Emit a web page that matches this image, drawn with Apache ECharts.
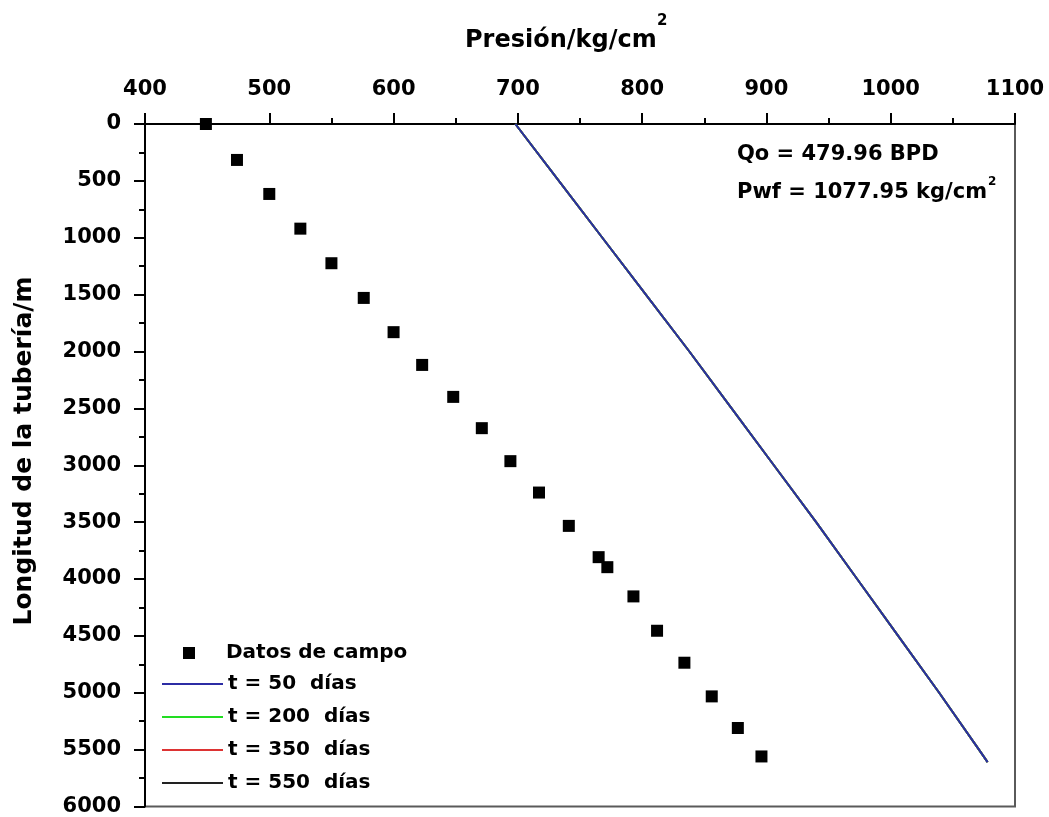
<!DOCTYPE html>
<html>
<head>
<meta charset="utf-8">
<title>Presión vs longitud de la tubería</title>
<script src="https://cdn.jsdelivr.net/npm/echarts@6/dist/echarts.min.js"></script>
<style>
  html, body { margin: 0; padding: 0; background: #ffffff; }
  #chart { width: 1049px; height: 817px; }
</style>
</head>
<body>
<div id="chart"></div>
<script>
// Field measurements: pressure (kg/cm2) vs depth along the tubing (m)
const fieldPressure = [449, 474, 500, 525, 550, 576, 600, 623, 648, 671, 694, 717, 741, 765, 772, 793, 812, 834, 856, 877, 896];
const fieldDepth    = [0, 316, 615, 920, 1224, 1529, 1830, 2118, 2399, 2674, 2964, 3240, 3533, 3808, 3896, 4153, 4455, 4736, 5032, 5310, 5560];

// Simulated pressure profiles for each production time
const modelDepth = [0, 500, 1000, 1500, 2000, 2500, 3000, 3500, 4000, 4500, 5000, 5500, 5610];
const pressure50  = [698, 733, 768, 803, 838, 872, 906, 940, 973, 1006, 1039, 1071, 1077.95];
const pressure200 = [698, 733, 768, 803, 838, 872, 906, 940, 973, 1006, 1039, 1071, 1077.95];
const pressure350 = [698, 733, 768, 803, 838, 872, 906, 940, 973, 1006, 1039, 1071, 1077.95];
const pressure550 = [698, 733, 768, 803, 838, 872, 906, 940, 973, 1006, 1039, 1071, 1077.95];

// Axis ranges and labels
const xRange = [400, 1100];
const yRange = [0, 6000];
const xTitle = 'Presión/kg/cm';
const yTitle = 'Longitud de la tubería/m';
const seriesNames = ['Datos de campo', 't = 50  días', 't = 200  días', 't = 350  días', 't = 550  días'];
const annotQo = 'Qo = 479.96 BPD';
const annotPwf = 'Pwf = 1077.95 kg/cm';

const FONT = 'DejaVu Sans';
const pair = (xs, ys) => xs.map((x, i) => [x, ys[i]]);
const plain = v => String(v);

const axisCommon = {
  type: 'value',
  axisLine: { show: true, lineStyle: { color: '#000', width: 2 } },
  axisTick: { show: true, length: 11, lineStyle: { color: '#000', width: 2 } },
  minorTick: { show: true, splitNumber: 2, length: 6, lineStyle: { color: '#000', width: 2 } },
  splitLine: { show: false },
  minorSplitLine: { show: false }
};

const labelStyle = { margin: 24, fontSize: 21, fontWeight: 'bold', color: '#000', fontFamily: FONT, formatter: plain };

const lineSeries = (name, data, color, z) => ({
  name: name,
  type: 'line',
  data: pair(data, modelDepth),
  showSymbol: false,
  symbol: 'none',
  smooth: false,
  z: z,
  lineStyle: { color: color, width: 2 },
  itemStyle: { color: color }
});

const chart = echarts.init(document.getElementById('chart'), null, { renderer: 'canvas' });

chart.setOption({
  backgroundColor: '#ffffff',
  animation: false,
  grid: {
    left: 145, right: 34, top: 124, bottom: 10,
    show: true, borderColor: '#5a5a5a', borderWidth: 2, backgroundColor: 'transparent'
  },
  xAxis: Object.assign({}, axisCommon, {
    position: 'top',
    min: xRange[0], max: xRange[1], interval: 100,
    axisLabel: labelStyle
  }),
  yAxis: Object.assign({}, axisCommon, {
    inverse: true,
    min: yRange[0], max: yRange[1], interval: 500,
    axisLabel: labelStyle
  }),
  legend: [
    {
      data: [seriesNames[0]],
      left: 178, top: 638,
      icon: 'rect', itemWidth: 12, itemHeight: 12,
      textStyle: { fontSize: 20, fontWeight: 'bold', color: '#000', fontFamily: FONT, padding: [0, 0, 0, 26] }
    },
    {
      data: seriesNames.slice(1),
      orient: 'vertical',
      left: 157, top: 669,
      icon: 'rect', itemWidth: 61, itemHeight: 2, itemGap: 13,
      textStyle: { fontSize: 20, fontWeight: 'bold', color: '#000', fontFamily: FONT }
    }
  ],
  graphic: [
    {
      type: 'text', left: 465, top: 29,
      style: { text: xTitle, font: 'bold 24px "DejaVu Sans"', fill: '#000' }
    },
    {
      type: 'text', left: 657, top: 14,
      style: { text: '2', font: 'bold 15px "DejaVu Sans"', fill: '#000' }
    },
    {
      type: 'text', x: 24, y: 451, rotation: Math.PI / 2,
      style: { text: yTitle, font: 'bold 25px "DejaVu Sans"', fill: '#000', align: 'center', verticalAlign: 'middle' }
    },
    {
      type: 'text', left: 737, top: 144,
      style: { text: annotQo, font: 'bold 21px "DejaVu Sans"', fill: '#000' }
    },
    {
      type: 'text', left: 737, top: 182,
      style: { text: annotPwf, font: 'bold 21px "DejaVu Sans"', fill: '#000' }
    },
    {
      type: 'text', left: 988, top: 176,
      style: { text: '2', font: 'bold 12px "DejaVu Sans"', fill: '#000' }
    }
  ],
  series: [
    {
      name: seriesNames[0],
      type: 'scatter',
      data: pair(fieldPressure, fieldDepth),
      symbol: 'rect',
      symbolSize: 12,
      z: 6,
      itemStyle: { color: '#000', opacity: 1 }
    },
    lineSeries(seriesNames[1], pressure50, '#2c2ca4', 5),
    lineSeries(seriesNames[2], pressure200, '#22dd22', 4),
    lineSeries(seriesNames[3], pressure350, '#dd3333', 3),
    lineSeries(seriesNames[4], pressure550, '#222222', 2)
  ]
});
</script>
</body>
</html>
